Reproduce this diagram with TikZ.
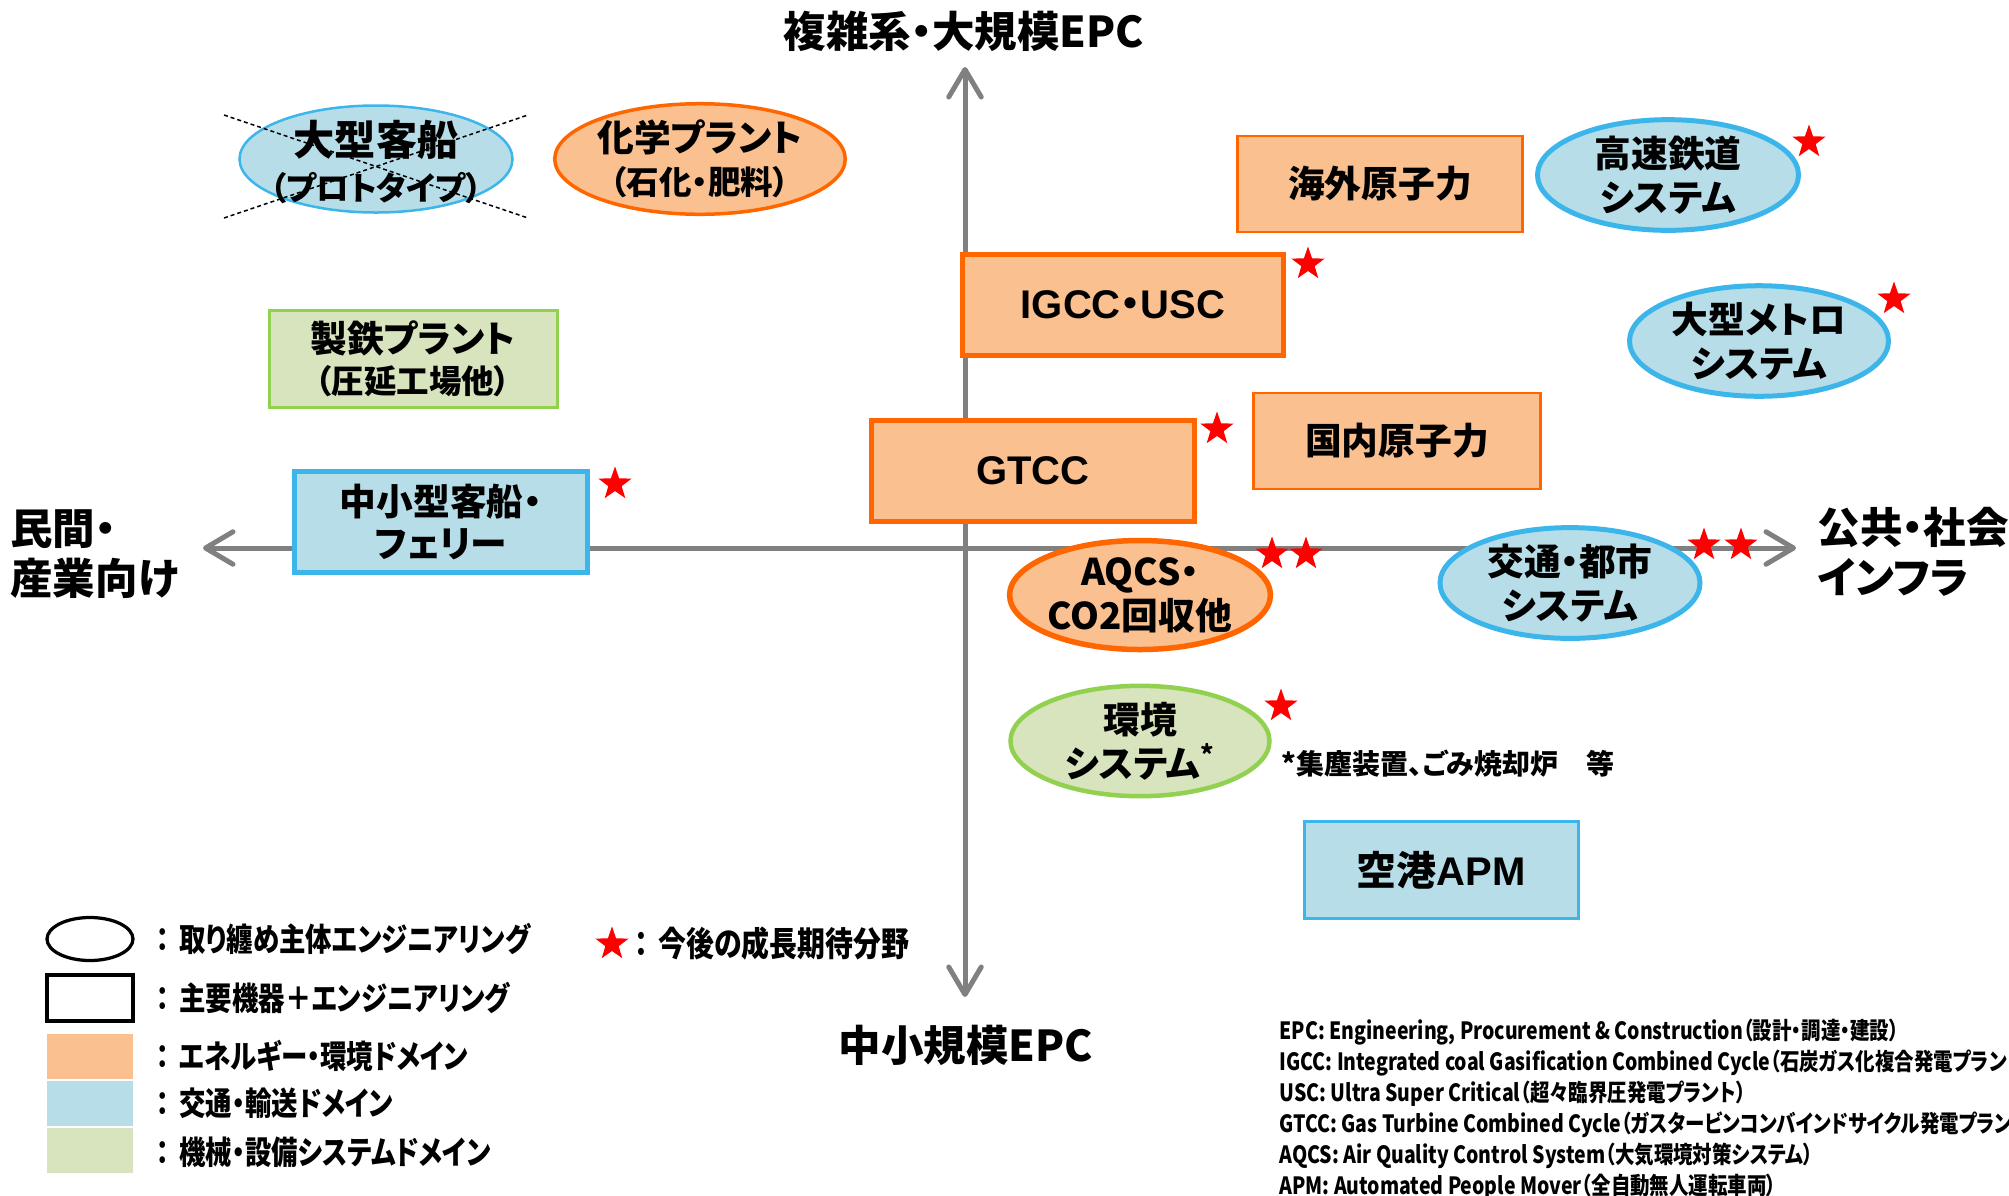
\documentclass[tikz,border=0pt]{standalone}
\usepackage{fontspec}
\setmainfont{Noto Sans CJK JP}[RawFeature={+palt}]
\newfontfamily\latfont{Liberation Sans}
\newfontfamily\notefont{Noto Sans CJK JP}[FakeStretch=0.82,RawFeature={+palt}]
\usetikzlibrary{shapes.geometric,arrows.meta}

\definecolor{orgfill}{RGB}{250,192,144}
\definecolor{orgline}{RGB}{255,102,0}
\definecolor{bluefill}{RGB}{183,222,232}
\definecolor{blueline}{RGB}{60,182,234}
\definecolor{grnfill}{RGB}{215,228,189}
\definecolor{grnline}{RGB}{146,208,80}
\definecolor{axisgray}{RGB}{128,128,128}
\newdimen\pxu
\pxu=0.4pt

\begin{document}
\begin{tikzpicture}[x=0.4pt, y=-0.4pt, every node/.style={inner sep=0pt, align=center},
    rbox/.style 2 args={rectangle, minimum width=#1*\pxu, minimum height=#2*\pxu},
    oval/.style 2 args={ellipse, minimum width=#1*\pxu, minimum height=#2*\pxu},
    energy/.style={fill=orgfill, draw=orgline},
    transport/.style={fill=bluefill, draw=blueline},
    machine/.style={fill=grnfill, draw=grnline},
    lbl/.style={font=\bfseries\fontsize{14.7}{17.6}\selectfont},
    latlbl/.style={font=\bfseries\fontsize{16}{18}\selectfont},
    axislbl/.style={font=\bfseries\fontsize{17}{20}\selectfont},
    legendtxt/.style={anchor=west, font=\notefont\bfseries\fontsize{12.9}{15}\selectfont},
    growth/.style={star, star points=5, star point ratio=2.5, fill=red, minimum size=35*\pxu},
    axis/.style={draw=axisgray, line width=2pt, {Straight Barb[length=11pt,width=13pt,round]}-{Straight Barb[length=11pt,width=13pt,round]}},
    crossline/.style={dash pattern=on 1.6pt off 1.2pt, line width=0.6pt}]
  \useasboundingbox (0,0) rectangle (2009,1195);
  \clip (0,0) rectangle (2009,1195);

  % axes
  \coordinate (ntip) at (965,67);
  \coordinate (stip) at (965,997);
  \coordinate (wtip) at (203,548);
  \coordinate (etip) at (1796,548);
  \draw[axis] (stip) -- (ntip);
  \draw[axis] (wtip) -- (etip);
  \node[axislbl] (large) at (964,31) {複雑系・大規模EPC};
  \node[axislbl] (small) at (966,1045) {中小規模EPC};
  \node[axislbl, anchor=west, align=left] (private) at (10,554) {民間・\\産業向け};
  \node[axislbl, anchor=west, align=left] (public) at (1817,552) {公共・社会\\インフラ};

  % fields
  \node[oval={273}{107}, transport, line width=1pt] (bigship) at (376,159) {};
  \node[font=\bfseries\fontsize{16.5}{18}\selectfont] (bigshiptxt) at ([yshift=-3\pxu]bigship.center) {大型客船\\{\fontsize{13}{15}\selectfont （プロトタイプ）}};
  \draw[crossline] ([shift={(-152,-44)}]bigship.center) -- ([shift={(152,59)}]bigship.center);
  \draw[crossline] ([shift={(-152,59)}]bigship.center) -- ([shift={(152,-44)}]bigship.center);
  \node[oval={288}{107}, energy, line width=1.4pt, font=\bfseries\fontsize{14.7}{17.2}\selectfont] (chem) at (700,159) {化学プラント\\{\fontsize{13}{15}\selectfont （石化・肥料）}};
  \node[rbox={288}{97}, machine, line width=1.2pt, font=\bfseries\fontsize{14.7}{16.4}\selectfont] (steel) at (413,359) {製鉄プラント\\{\fontsize{13}{15}\selectfont （圧延工場他）}};
  \node[rbox={285}{96}, energy, line width=1pt, lbl] (overseas) at (1380,184) {海外原子力};
  \node[oval={261}{107}, transport, line width=2pt, lbl] (hsr) at (1668,175) {高速鉄道\\システム};
  \node[rbox={321}{101}, energy, line width=2.2pt, latlbl] (igcc) at (1123,305) {{\latfont IGCC}・{\latfont USC}};
  \node[oval={259}{108}, transport, line width=2pt, lbl] (metro) at (1759,341) {大型メトロ\\システム};
  \node[rbox={287}{96}, energy, line width=1pt, lbl] (domestic) at (1397,441) {国内原子力};
  \node[rbox={323}{101}, energy, line width=2.2pt, latlbl] (gtcc) at (1033,471) {\latfont GTCC};
  \node[rbox={293}{101}, transport, line width=2.2pt, font=\bfseries\fontsize{14.7}{16.8}\selectfont] (ferry) at (441,522) {中小型客船・\\フェリー};
  \node[oval={259}{109}, energy, line width=2.2pt, lbl] (aqcs) at (1140,595) {AQCS・\\CO2回収他};
  \node[oval={260}{108}, transport, line width=2pt, lbl] (urban) at (1570,583) {交通・都市\\システム};
  \node[oval={259}{107}, machine, line width=1.8pt, lbl] (env) at (1140,741) {環境\\システム\textsuperscript{*}};
  \node[anchor=west, font=\bfseries\fontsize{11.2}{13}\selectfont] (envnote) at (1281,764) {*集塵装置、ごみ焼却炉　等};
  \node[rbox={274}{97}, transport, line width=1.2pt, latlbl] (apm) at (1441,870) {空港{\latfont APM}};

  % growth marks
  \node[growth] (s1) at (1809,142) {};
  \node[growth] (s2) at (1308,264) {};
  \node[growth] (s3) at (1894,299) {};
  \node[growth] (s4) at (1217,429) {};
  \node[growth] (s5) at (615,484) {};
  \node[growth] (s6) at (1272,554) {};
  \node[growth] (s7) at (1306,554) {};
  \node[growth] (s8) at (1704,545) {};
  \node[growth] (s9) at (1741,545) {};
  \node[growth] (s10) at (1281,706) {};

  % legend
  \node[oval={86}{43}, draw=black, line width=1.3pt] (keyoval) at (90,939) {};
  \node[rbox={86}{46}, draw=black, line width=1.4pt] (keybox) at (90,998) {};
  \node[rbox={86}{45}, fill=orgfill] (keyorg) at (90,1056) {};
  \node[rbox={86}{45}, fill=bluefill] (keyblue) at (90,1103) {};
  \node[rbox={86}{45}, fill=grnfill] (keygrn) at (90,1150) {};
  \node[legendtxt] (t1) at (156,939) {：\hspace{0.3em}取り纏め主体エンジニアリング};
  \node[legendtxt] (t2) at (156,998) {：\hspace{0.3em}主要機器＋エンジニアリング};
  \node[legendtxt] (t3) at (156,1056) {：\hspace{0.3em}エネルギー・環境ドメイン};
  \node[legendtxt] (t4) at (156,1103) {：\hspace{0.3em}交通・輸送ドメイン};
  \node[legendtxt] (t5) at (156,1152) {：\hspace{0.3em}機械・設備システムドメイン};
  \node[growth] (keystar) at (612,944) {};
  \node[legendtxt, font=\notefont\bfseries\fontsize{13.6}{15}\selectfont] (t6) at (634,944) {：\hspace{0.3em}今後の成長期待分野};

  % abbreviations
  \node[anchor=north west, align=left, font=\notefont\bfseries\fontsize{9.5}{12.4}\selectfont] (abbr) at (1279,1018)
    {EPC: Engineering, Procurement \& Construction（設計・調達・建設）\\
     IGCC: Integrated coal Gasification Combined Cycle（石炭ガス化複合発電プラント）\\
     USC: Ultra Super Critical（超々臨界圧発電プラント）\\
     GTCC: Gas Turbine Combined Cycle（ガスタービンコンバインドサイクル発電プラント）\\
     AQCS: Air Quality Control System（大気環境対策システム）\\
     APM: Automated People Mover（全自動無人運転車両）};
\end{tikzpicture}
\end{document}
